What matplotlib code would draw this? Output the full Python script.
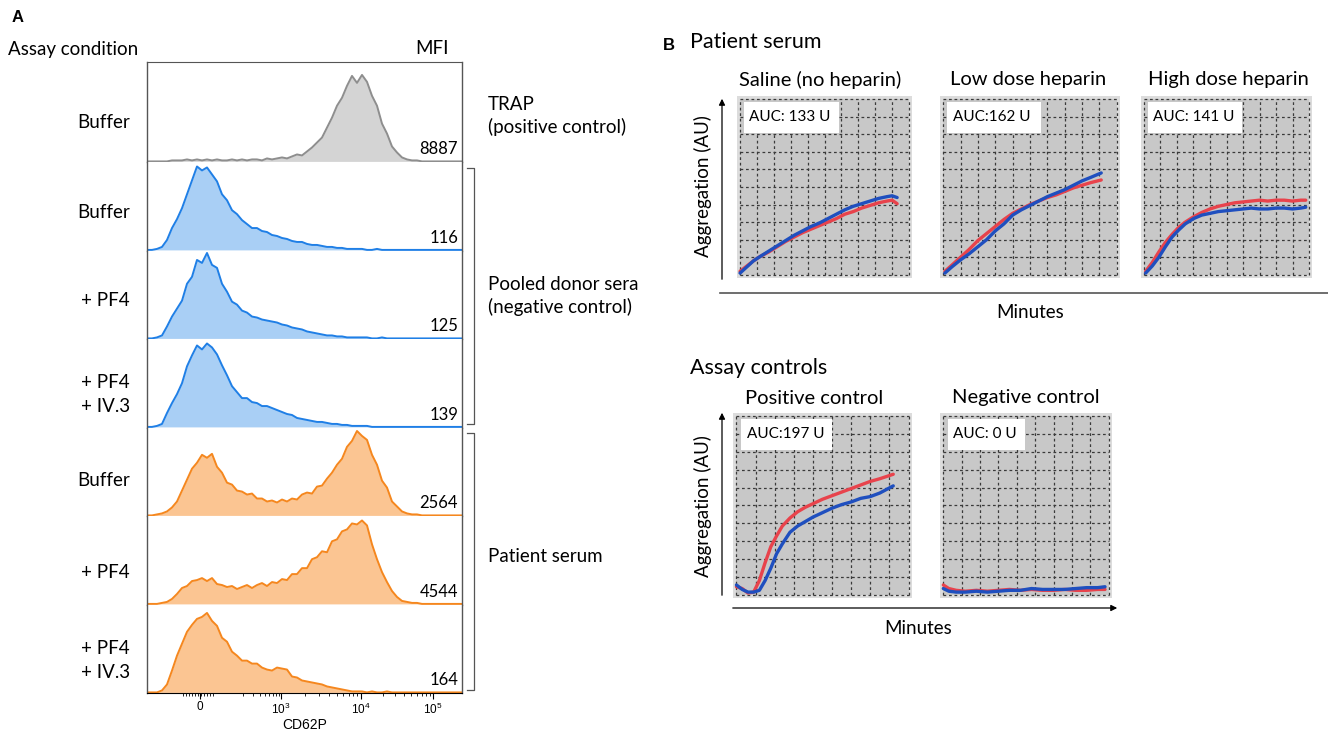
import matplotlib.pyplot as plt
import numpy as np
from matplotlib.lines import Line2D
from matplotlib.patches import Rectangle, FancyArrowPatch

plt.rcParams['font.family'] = ['Lato', 'DejaVu Sans']
plt.rcParams['mathtext.fontset'] = 'custom'
plt.rcParams['mathtext.rm'] = 'Liberation Sans'

W, H = 1328, 737

# ---------------- panel A data (flow histograms, CD62P) ----------------
# bins every 5 channel units across the plotted range
ch = np.arange(0, 320, 5)

trap_buffer = [0, 0, 0, 0, 0, 1, 1, 1, 2, 1, 2, 1, 2, 1, 2, 1, 1, 2, 1, 2,
               1, 2, 2, 1, 3, 2, 3, 4, 3, 5, 7, 6, 10, 14, 19, 24, 34, 44, 56, 64,
               76, 86, 79, 87, 80, 66, 56, 38, 28, 15, 9, 4, 2, 1, 1, 0, 0, 0, 0, 0,
               0, 0, 0, 0]
donor_buffer = [0, 0, 1, 3, 10, 22, 31, 42, 56, 70, 84, 80, 83, 76, 69, 56, 50, 40, 36, 30,
                26, 22, 22, 19, 18, 15, 14, 12, 11, 9, 8, 8, 6, 5, 5, 4, 3, 3, 2, 2,
                1, 1, 1, 1, 0, 0, 1, 0, 0, 0, 0, 0, 0, 0, 0, 0, 0, 0, 0, 0,
                0, 0, 0, 0]
donor_pf4 = [0, 0, 1, 3, 12, 22, 30, 38, 55, 62, 79, 76, 86, 74, 71, 55, 47, 37, 34, 28,
             26, 22, 21, 19, 18, 17, 16, 14, 13, 11, 10, 9, 7, 6, 5, 4, 3, 3, 2, 2,
             1, 1, 1, 1, 1, 0, 0, 1, 0, 0, 0, 0, 0, 0, 0, 0, 0, 0, 0, 0,
             0, 0, 0, 0]
donor_pf4_iv3 = [0, 0, 1, 3, 14, 24, 33, 44, 61, 72, 82, 78, 84, 80, 73, 62, 52, 41, 35, 29,
                 29, 25, 24, 21, 21, 19, 17, 15, 13, 12, 9, 8, 7, 6, 5, 5, 4, 3, 3, 2,
                 2, 1, 1, 1, 1, 0, 0, 0, 0, 0, 0, 0, 0, 0, 0, 0, 0, 0, 0, 0,
                 0, 0, 0, 0]
pat_buffer = [0, 0, 1, 2, 4, 8, 14, 25, 36, 47, 53, 61, 58, 62, 49, 43, 33, 31, 25, 24,
              21, 22, 17, 17, 14, 15, 13, 16, 14, 17, 16, 21, 23, 22, 29, 30, 37, 43, 51, 57,
              69, 75, 85, 80, 76, 61, 51, 35, 28, 14, 9, 4, 2, 1, 1, 0, 0, 0, 0, 0,
              0, 0, 0, 0]
pat_pf4 = [0, 0, 0, 1, 2, 5, 10, 16, 18, 23, 24, 26, 23, 26, 20, 19, 17, 18, 15, 17,
           19, 16, 19, 21, 18, 22, 21, 25, 24, 30, 30, 36, 36, 45, 47, 53, 52, 63, 65, 73,
           75, 81, 80, 84, 79, 60, 45, 32, 22, 13, 7, 3, 2, 1, 1, 0, 0, 0, 0, 0,
           0, 0, 0, 0]
pat_pf4_iv3 = [0, 0, 0, 2, 8, 22, 37, 49, 61, 68, 74, 76, 80, 72, 67, 55, 51, 41, 37, 32,
               32, 29, 29, 25, 23, 22, 25, 24, 23, 16, 15, 12, 11, 10, 9, 8, 6, 5, 4, 3,
               2, 1, 1, 1, 0, 1, 0, 0, 1, 0, 0, 0, 0, 0, 0, 0, 0, 0, 0, 0,
               0, 0, 0, 0]

hists = [trap_buffer, donor_buffer, donor_pf4, donor_pf4_iv3,
         pat_buffer, pat_pf4, pat_pf4_iv3]
mfi = ['8887', '116', '125', '139', '2564', '4544', '164']
conditions = ['Buffer', 'Buffer', '+ PF4', '+ PF4\n+ IV.3', 'Buffer', '+ PF4', '+ PF4\n+ IV.3']
groups = ['TRAP\n(positive control)', 'Pooled donor sera\n(negative control)', 'Patient serum']

tick_pos = [53, 134, 214, 286]
tick_lab = ['0', r'$\mathregular{10^3}$', r'$\mathregular{10^4}$', r'$\mathregular{10^5}$']

# ---------------- panel B data (aggregometry traces) ----------------
t_saline = [0, 0.4, 0.8, 1.2, 1.7, 2.2, 2.7, 3.2, 3.7, 4.2, 4.7, 5.2, 5.7, 6.2, 6.7, 7.2, 7.7, 8.2, 8.7, 9.0, 9.3]
blue_saline = [0.1, 0.45, 0.8, 1.05, 1.35, 1.65, 1.95, 2.25, 2.5, 2.75, 2.95, 3.2, 3.45, 3.7, 3.9, 4.05, 4.2, 4.35, 4.45, 4.5, 4.4]
red_saline = [0.2, 0.5, 0.8, 1.05, 1.3, 1.6, 1.9, 2.15, 2.4, 2.6, 2.8, 3.0, 3.2, 3.45, 3.6, 3.8, 3.95, 4.1, 4.2, 4.25, 4.05]

t_low = [0.1, 0.5, 1.0, 1.5, 2.0, 2.5, 3.0, 3.5, 4.0, 4.5, 5.0, 5.5, 6.0, 6.5, 7.0, 7.5, 8.0, 8.5, 9.1]
blue_low = [0.1, 0.45, 0.85, 1.2, 1.6, 2.0, 2.5, 2.9, 3.4, 3.7, 3.95, 4.2, 4.45, 4.65, 4.85, 5.1, 5.35, 5.55, 5.8]
red_low = [0.2, 0.55, 1.0, 1.45, 1.95, 2.35, 2.75, 3.15, 3.5, 3.75, 4.0, 4.2, 4.4, 4.55, 4.75, 4.95, 5.1, 5.25, 5.4]

t_high = [0.1, 0.5, 0.9, 1.3, 1.7, 2.1, 2.5, 3.0, 3.5, 4.0, 4.5, 5.0, 5.5, 6.0, 6.5, 7.0, 7.5, 8.0, 8.5, 9.0, 9.5, 9.8]
red_high = [0.2, 0.7, 1.3, 1.85, 2.3, 2.7, 3.0, 3.3, 3.55, 3.75, 3.9, 4.0, 4.1, 4.15, 4.2, 4.25, 4.2, 4.25, 4.25, 4.2, 4.25, 4.25]
blue_high = [0.1, 0.5, 1.0, 1.6, 2.15, 2.55, 2.9, 3.2, 3.4, 3.5, 3.6, 3.65, 3.7, 3.75, 3.8, 3.75, 3.75, 3.8, 3.8, 3.75, 3.8, 3.85]

t_pos = [0, 0.3, 0.6, 0.9, 1.2, 1.5, 1.8, 2.1, 2.4, 2.8, 3.2, 3.6, 4.0, 4.5, 5.0, 5.5, 6.0, 6.5, 7.0, 7.5, 8.2]
red_pos = [0.45, 0.35, 0.1, 0.15, 0.8, 1.8, 2.7, 3.3, 3.85, 4.3, 4.65, 4.9, 5.1, 5.35, 5.55, 5.75, 5.95, 6.15, 6.35, 6.5, 6.75]
blue_pos = [0.55, 0.3, 0.15, 0.15, 0.25, 0.8, 1.5, 2.3, 2.85, 3.5, 3.85, 4.1, 4.35, 4.6, 4.85, 5.05, 5.2, 5.4, 5.5, 5.7, 6.1]

t_neg = [0, 0.3, 0.7, 1.2, 1.8, 2.4, 3.0, 3.6, 4.2, 4.8, 5.4, 6.0, 6.6, 7.2, 7.8, 8.4, 8.8]
red_neg = [0.55, 0.35, 0.25, 0.2, 0.25, 0.2, 0.25, 0.3, 0.25, 0.3, 0.25, 0.25, 0.3, 0.25, 0.25, 0.3, 0.3]
blue_neg = [0.35, 0.2, 0.15, 0.15, 0.2, 0.15, 0.2, 0.25, 0.25, 0.35, 0.3, 0.3, 0.3, 0.35, 0.4, 0.4, 0.45]


def box(x0, y0, x1, y1):
    return [x0 / W, 1 - y1 / H, (x1 - x0) / W, (y1 - y0) / H]


def ftext(x, y, s, **kw):
    fig.text(x / W, 1 - y / H, s, **kw)


def fline(xs, ys, **kw):
    fig.add_artist(Line2D([x / W for x in xs], [1 - y / H for y in ys],
                          transform=fig.transFigure, **kw))


def farrow(x0, y0, x1, y1):
    fig.add_artist(FancyArrowPatch((x0 / W, 1 - y0 / H), (x1 / W, 1 - y1 / H),
                                   transform=fig.transFigure, arrowstyle='-|>',
                                   mutation_scale=9, color='black', lw=0.9))


fig = plt.figure(figsize=(W / 100, H / 100), dpi=100)

# ---------------- panel A ----------------
ftext(12, 17, 'A', fontsize=12, fontweight='bold', family='Liberation Sans', va='center')
ftext(8, 49, 'Assay condition', fontsize=13.5, va='center')
ftext(432, 49, 'MFI', fontsize=13.5, va='center', ha='center')

bounds = [62, 162, 250.5, 339, 427.5, 516, 604.5, 693]
styles = [('#8e8e8e', '#d4d4d4')] + [('#1f7fe6', '#a9cff5')] * 3 + [('#f5871e', '#fbc592')] * 3
label_y = [122, 212, 301, 394, 481, 573, 661]

for k, h in enumerate(hists):
    top, bot = bounds[k], bounds[k + 1]
    ax = fig.add_axes(box(147, top, 462, bot))
    line_c, fill_c = styles[k]
    ax.fill_between(ch, h, color=fill_c, lw=0)
    ax.plot(ch, h, color=line_c, lw=1.4)
    ax.set_xlim(0, 315)
    ax.set_ylim(-0.6, bot - top)
    for s in ['left', 'right']:
        ax.spines[s].set_color('#555555')
        ax.spines[s].set_linewidth(1.0)
    ax.spines['top'].set_visible(k == 0)
    ax.spines['top'].set_color('#555555')
    ax.spines['bottom'].set_visible(k == len(hists) - 1)
    ax.set_yticks([])
    ax.text(311, 4, mfi[k], ha='right', va='bottom', fontsize=12)
    if k < len(hists) - 1:
        ax.set_xticks([])
    else:
        ax.set_xticks(tick_pos)
        ax.set_xticklabels(tick_lab, fontsize=8.5, family='Liberation Sans')
        minor = list(range(36, 68, 3))
        for a, b in [(80, 134), (134, 214), (214, 286)]:
            minor += [a + (b - a) * np.log10(m) for m in range(2, 10)]
        ax.set_xticks(minor, minor=True)
        ax.tick_params(axis='x', which='major', length=4, width=0.8, pad=2)
        ax.tick_params(axis='x', which='minor', length=2.5, width=0.6)
        ax.set_xlabel('CD62P', fontsize=10, family='Liberation Sans', labelpad=1)
    ftext(130, label_y[k], conditions[k], ha='right', va='center', fontsize=13.5,
          linespacing=1.5)

# brackets
fline([467, 474, 474, 467], [168, 168, 424, 424], color='#555555', lw=0.9)
fline([467, 474, 474, 467], [433, 433, 690, 690], color='#555555', lw=0.9)
ftext(488, 116, groups[0], va='center', fontsize=13.5, linespacing=1.35)
ftext(488, 296, groups[1], va='center', fontsize=13.5, linespacing=1.35)
ftext(488, 557, groups[2], va='center', fontsize=13.5)

# ---------------- panel B ----------------
ftext(663, 45, 'B', fontsize=12, fontweight='bold', family='Liberation Sans', va='center')
ftext(690, 42, 'Patient serum', fontsize=15.5, va='center')
ftext(690, 368, 'Assay controls', fontsize=15.5, va='center')


def agg_panel(rect, ncol, nrow, title, title_x, title_y, auc, auc_w, traces):
    ax = fig.add_axes(box(*rect))
    pad = 0.18
    ax.set_xlim(-pad, ncol + pad)
    ax.set_ylim(-pad, nrow + pad)
    ax.set_facecolor('#dcdcdc')
    ax.add_patch(Rectangle((0, 0), ncol, nrow, fc='#c8c8c8', ec='none', zorder=0))
    ax.vlines(range(ncol + 1), 0, nrow, colors='#3a3a3a', lw=0.9,
              linestyles=(0, (2.2, 2.2)), zorder=1)
    ax.hlines(range(nrow + 1), 0, ncol, colors='#3a3a3a', lw=0.9,
              linestyles=(0, (2.2, 2.2)), zorder=1)
    ax.add_patch(Rectangle((0.25, nrow - 1.9), auc_w, 1.75, fc='white', ec='none', zorder=2))
    ax.text(0.25 + 0.3, nrow - 1.02, auc, fontsize=11, va='center', ha='left', zorder=3)
    for t, y, c in traces:
        ax.plot(t, y, color=c, lw=2.4, zorder=4, solid_capstyle='round')
    ax.set_xticks([])
    ax.set_yticks([])
    for s in ax.spines.values():
        s.set_visible(False)
    ftext(title_x, title_y, title, ha='center', va='center', fontsize=14.5)
    return ax


RED = '#e8434c'
BLUE = '#1f4fbf'

agg_panel((737, 96, 912, 278), 10, 10, 'Saline (no heparin)', 820, 80, 'AUC: 133 U', 5.6,
          [(t_saline, red_saline, RED), (t_saline, blue_saline, BLUE)])
agg_panel((940, 96, 1120, 278), 10, 10, 'Low dose heparin', 1028, 80, 'AUC:162 U', 5.4,
          [(t_low, red_low, RED), (t_low, blue_low, BLUE)])
agg_panel((1141, 96, 1312, 278), 10, 10, 'High dose heparin', 1228, 80, 'AUC: 141 U', 5.7,
          [(t_high, red_high, RED), (t_high, blue_high, BLUE)])
agg_panel((733, 413, 912, 598), 9, 10, 'Positive control', 814, 398, 'AUC:197 U', 4.75,
          [(t_pos, red_pos, RED), (t_pos, blue_pos, BLUE)])
agg_panel((940, 413, 1112, 598), 9, 10, 'Negative control', 1026, 398, 'AUC: 0 U', 4.2,
          [(t_neg, red_neg, RED), (t_neg, blue_neg, BLUE)])

# axes arrows
farrow(722, 282, 722, 96)
fline([720, 1328], [293, 293], color='#555555', lw=1.2)
ftext(1030, 312, 'Minutes', ha='center', va='center', fontsize=13.5)
ftext(703, 186, 'Aggregation (AU)', ha='center', va='center', rotation=90, fontsize=13.5)

farrow(722, 598, 722, 410)
farrow(730, 608, 1120, 608)
ftext(918, 628, 'Minutes', ha='center', va='center', fontsize=13.5)
ftext(703, 506, 'Aggregation (AU)', ha='center', va='center', rotation=90, fontsize=13.5)

fig.savefig('out.png', dpi=100)
